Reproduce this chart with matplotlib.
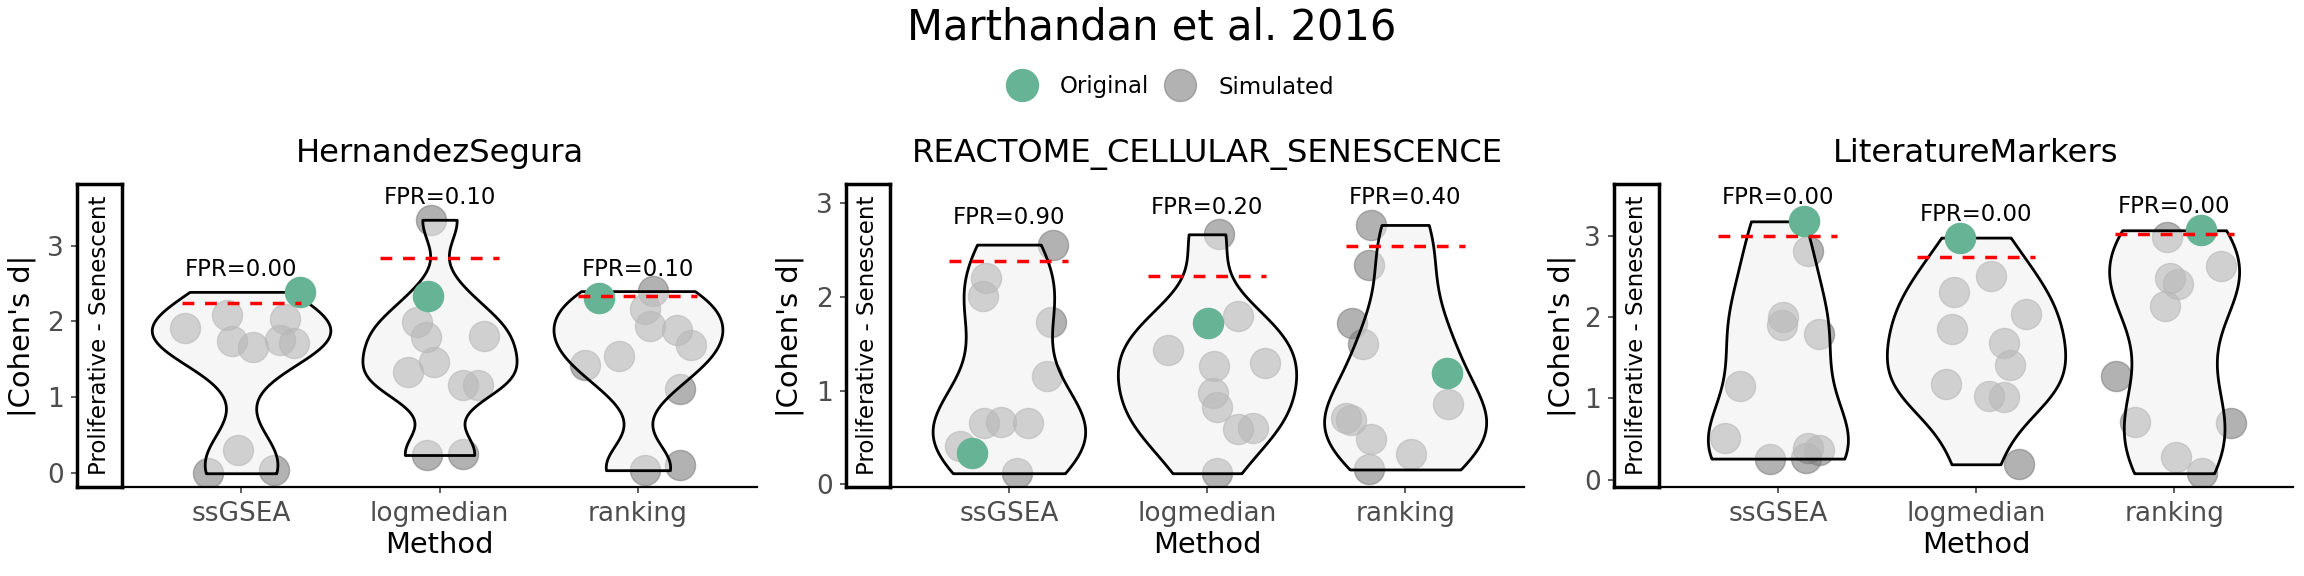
import numpy as np
import matplotlib
matplotlib.use("Agg")
import matplotlib.pyplot as plt
from matplotlib.lines import Line2D

# ---------------- data ----------------
methods = ["ssGSEA", "logmedian", "ranking"]
signatures = ["HernandezSegura", "REACTOME_CELLULAR_SENESCENCE", "LiteratureMarkers"]

# HernandezSegura
hs_simulated = [
    [1.92, 2.08, 1.74, 1.66, 2.03, 1.76, 1.72, 0.31, 0.00, 0.04],
    [3.34, 1.99, 1.79, 1.81, 1.46, 1.34, 1.16, 1.16, 0.24, 0.25],
    [2.40, 2.16, 1.94, 1.89, 1.69, 1.54, 1.42, 1.11, 0.04, 0.11],
]
hs_sim_jitter = [
    [-0.283, -0.071, -0.045, 0.061, 0.220, 0.197, 0.268, -0.015, -0.169, 0.167],
    [-0.045, -0.111, -0.068, 0.222, -0.030, -0.157, 0.116, 0.192, -0.061, 0.119],
    [0.076, 0.035, 0.061, 0.199, 0.268, -0.093, -0.268, 0.210, 0.035, 0.210],
]
hs_original = [2.39, 2.33, 2.31]
hs_orig_jitter = [0.295, -0.058, -0.194]
hs_threshold = [2.24, 2.84, 2.33]

# REACTOME_CELLULAR_SENESCENCE
re_simulated = [
    [2.56, 2.20, 2.01, 1.73, 1.16, 0.66, 0.67, 0.66, 0.41, 0.12],
    [2.67, 1.80, 1.43, 1.26, 1.30, 0.98, 0.83, 0.59, 0.60, 0.12],
    [2.77, 2.34, 1.72, 1.50, 0.86, 0.71, 0.69, 0.48, 0.33, 0.16],
]
re_sim_jitter = [
    [0.225, -0.114, -0.132, 0.213, 0.192, -0.127, -0.041, 0.099, -0.246, 0.043],
    [0.063, 0.157, -0.195, 0.035, 0.294, 0.030, 0.048, 0.157, 0.233, 0.048],
    [-0.170, -0.182, -0.266, -0.215, 0.218, -0.296, -0.271, -0.170, 0.028, -0.182],
]
re_original = [0.34, 1.72, 1.19]
re_orig_jitter = [-0.187, 0.005, 0.210]
re_threshold = [2.38, 2.23, 2.55]

# LiteratureMarkers
lm_simulated = [
    [2.82, 2.00, 1.90, 1.79, 1.15, 0.51, 0.26, 0.39, 0.37, 0.27],
    [2.51, 2.31, 2.04, 1.86, 1.68, 1.41, 1.18, 1.03, 1.02, 0.19],
    [2.99, 2.63, 2.48, 2.41, 2.14, 1.28, 0.71, 0.70, 0.28, 0.08],
]
lm_sim_jitter = [
    [0.153, 0.027, 0.022, 0.208, -0.190, -0.267, -0.040, 0.153, 0.208, 0.143],
    [0.077, -0.111, 0.252, -0.119, 0.139, 0.173, -0.153, 0.064, 0.139, 0.218],
    [-0.035, 0.237, -0.020, 0.020, -0.047, -0.294, -0.195, 0.287, 0.010, 0.139],
]
lm_original = [3.18, 2.98, 3.07]
lm_orig_jitter = [0.134, -0.079, 0.134]
lm_threshold = [3.00, 2.74, 3.02]

yticks = [0, 1, 2, 3]

# ---------------- style / layout ----------------
W, H, DPI = 2304, 576, 100
GREEN = "#66B395"
GREY = "#808080"
VIOLIN_FILL = (0.937, 0.937, 0.937, 0.5)
LABEL_OFFSET = 0.29
TOP, BOTTOM = 184, 487
PANEL_PX = [(77, 122, 757), (846, 890, 1524), (1614, 1659, 2293)]
YLAB_X = [22, 790, 1562]


def fx(px):
    return px / W


def fy(py):
    return 1 - py / H


def nrd0_bw(v):
    v = np.asarray(v, float)
    sd = v.std(ddof=1)
    q75, q25 = np.percentile(v, [75, 25])
    lo = min(sd, (q75 - q25) / 1.34)
    if lo <= 0:
        lo = sd
    return 0.9 * lo * len(v) ** (-0.2)


def bw_factor(kde):
    d = np.asarray(kde.dataset).ravel()
    return nrd0_bw(d) / d.std(ddof=1)


def kde_peak(v):
    v = np.asarray(v, float)
    bw = nrd0_bw(v)
    grid = np.linspace(v.min(), v.max(), 512)
    dens = np.exp(-0.5 * ((grid[:, None] - v[None, :]) / bw) ** 2).sum(1)
    dens /= len(v) * bw * np.sqrt(2 * np.pi)
    return dens.max()


panels = [
    (signatures[0], hs_simulated, hs_sim_jitter, hs_original, hs_orig_jitter, hs_threshold),
    (signatures[1], re_simulated, re_sim_jitter, re_original, re_orig_jitter, re_threshold),
    (signatures[2], lm_simulated, lm_sim_jitter, lm_original, lm_orig_jitter, lm_threshold),
]

fig = plt.figure(figsize=(W / DPI, H / DPI), dpi=DPI)
fig.patch.set_facecolor("white")

for p, (sig, sim, jit, orig, ojit, thr) in enumerate(panels):
    sl, sr, dr = PANEL_PX[p]
    ax_s = fig.add_axes([fx(sl), fy(BOTTOM), fx(sr) - fx(sl), (BOTTOM - TOP) / H])
    ax = fig.add_axes([fx(sr), fy(BOTTOM), fx(dr) - fx(sr), (BOTTOM - TOP) / H], sharey=ax_s)

    groups = [np.array(sim[i] + [orig[i]], float) for i in range(3)]
    all_vals = np.concatenate(groups)
    ymax_lab = max(g.max() for g in groups) + LABEL_OFFSET
    ymin = all_vals.min()
    rng = ymax_lab - ymin
    ax.set_ylim(ymin - 0.05 * rng, ymax_lab + 0.05 * rng)
    ax.set_xlim(0.4, 3.6)

    # simulated points (under the violins)
    for i in range(3):
        xs = np.array(jit[i]) + (i + 1)
        ax.scatter(xs, sim[i], s=470, c=GREY, edgecolors=GREY, linewidths=1.0,
                   alpha=0.6, zorder=1)

    # violins (area-scaled within a panel)
    peaks = np.array([kde_peak(g) for g in groups])
    widths = 0.9 * peaks / peaks.max()
    vp = ax.violinplot(groups, positions=[1, 2, 3], widths=list(widths),
                       showextrema=False, bw_method=bw_factor, points=300)
    for body in vp["bodies"]:
        body.set_alpha(None)
        body.set_facecolor(VIOLIN_FILL)
        body.set_edgecolor("black")
        body.set_linewidth(2.0)
        body.set_zorder(2)

    # original points
    ax.scatter(np.array(ojit) + np.arange(1, 4), orig, s=470, c=GREEN,
               edgecolors=GREEN, linewidths=1.0, zorder=3)

    # thresholds
    ax.hlines(thr, np.arange(1, 4) - 0.3, np.arange(1, 4) + 0.3, colors="red",
              linewidth=2.5, linestyles=(0, (3.4, 3.1)), zorder=4)

    # FPR labels
    for i in range(3):
        fpr = np.mean(np.array(sim[i]) >= orig[i])
        ax.text(i + 1, groups[i].max() + LABEL_OFFSET, f"FPR={fpr:.2f}",
                ha="center", va="center", fontsize=16.4, color="black", zorder=5)

    # data axes styling
    for side in ["left", "right", "top"]:
        ax.spines[side].set_visible(False)
    ax.spines["bottom"].set_linewidth(1.6)
    ax.set_xticks([1, 2, 3])
    ax.set_xticklabels(methods)
    ax.tick_params(axis="x", length=4, width=1.1, color="#333333",
                   labelsize=19, labelcolor="#4D4D4D", pad=6)
    ax.tick_params(axis="y", left=False, labelleft=False)
    ax.set_title(sig, fontsize=23.2, pad=15.8)
    ax.patch.set_alpha(0)

    # strip with y axis
    for side in ["left", "right", "top", "bottom"]:
        ax_s.spines[side].set_linewidth(2.5)
        ax_s.spines[side].set_color("black")
    ax_s.set_xticks([])
    ax_s.set_yticks(yticks)
    ax_s.set_yticklabels([str(t) for t in yticks])
    ax_s.tick_params(axis="y", length=4.3, width=1.1, color="#333333",
                     labelsize=19, labelcolor="#4D4D4D", pad=5)
    ax_s.text(0.5, 0.5, "Proliferative - Senescent", rotation=90, ha="center",
              va="center", fontsize=16.5, transform=ax_s.transAxes)

    # axis titles
    fig.text(fx((sr + dr) / 2), fy(553), "Method", ha="center", va="baseline",
             fontsize=20.8)
    fig.text(fx(YLAB_X[p]), fy((TOP + BOTTOM) / 2), "|Cohen's d|", rotation=90,
             ha="center", va="center", fontsize=20.8)

fig.text(0.5, fy(40), "Marthandan et al. 2016", ha="center", va="baseline",
         fontsize=30)

handles = [
    Line2D([], [], marker="o", ls="", ms=23, mfc=GREEN, mec=GREEN, label="Original"),
    Line2D([], [], marker="o", ls="", ms=23, mfc=GREY, mec=GREY, alpha=0.6,
           label="Simulated"),
]
fig.legend(handles=handles, loc="center", bbox_to_anchor=(fx(1172), fy(87)),
           ncol=2, frameon=False, fontsize=16.5, handlelength=1.0,
           handletextpad=1.16, columnspacing=0.87, borderpad=0)

fig.savefig("out.png", dpi=DPI)
